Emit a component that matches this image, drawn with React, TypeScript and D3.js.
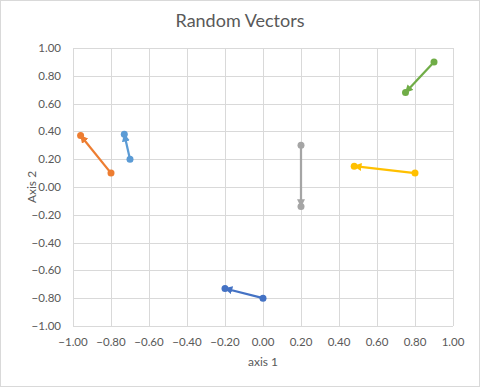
import React from "react";
import * as d3 from "d3";

const seriesNames = ["Series1", "Series2", "Series3", "Series4", "Series5", "Series6"];
const startX = [-0.70, -0.80, 0.20, 0.80, 0.00, 0.90];
const startY = [0.20, 0.10, 0.30, 0.10, -0.80, 0.90];
const endX = [-0.73, -0.96, 0.20, 0.48, -0.20, 0.75];
const endY = [0.38, 0.37, -0.14, 0.15, -0.73, 0.68];
const colors = ["#5B9BD5", "#ED7D31", "#A5A5A5", "#FFC000", "#4472C4", "#70AD47"];
const xTicks = [-1, -0.8, -0.6, -0.4, -0.2, 0, 0.2, 0.4, 0.6, 0.8, 1];
const yTicks = [-1, -0.8, -0.6, -0.4, -0.2, 0, 0.2, 0.4, 0.6, 0.8, 1];
const title = "Random Vectors";
const xLabel = "axis 1";
const yLabel = "Axis 2";

export default function App() {
  const W = 480, H = 387;
  const L = 73, R = 453, T = 48, B = 326;
  const x = d3.scaleLinear().domain([-1, 1]).range([L, R]);
  const y = d3.scaleLinear().domain([-1, 1]).range([B, T]);
  const font = "Lato, 'Open Sans', sans-serif";
  const txt = "#595959";
  return (
    <div style={{ position: "absolute", left: 0, top: 0 }}>
      <svg width={W} height={H} style={{ display: "block" }}>
        <defs>
          {colors.map((c, i) => (
            <marker key={i} id={`arr${i}`} viewBox="0 0 10 10" refX="9" refY="5"
              markerWidth="3.6" markerHeight="3.6" orient="auto" markerUnits="strokeWidth">
              <path d="M0,0 L10,5 L0,10 z" fill={c} />
            </marker>
          ))}
        </defs>
        <rect x={0.5} y={0.5} width={W - 1} height={H - 1} fill="#fff" stroke="#D9D9D9" />
        {xTicks.map((t, i) => (
          <line key={"gx" + i} x1={Math.round(x(t)) + 0.5} x2={Math.round(x(t)) + 0.5} y1={T} y2={B} stroke="#D9D9D9" />
        ))}
        {yTicks.map((t, i) => (
          <line key={"gy" + i} x1={L} x2={R} y1={Math.round(y(t)) + 0.5} y2={Math.round(y(t)) + 0.5} stroke="#D9D9D9" />
        ))}
        {xTicks.map((t, i) => (
          <text key={"tx" + i} x={x(t)} y={B + 20} textAnchor="middle" fontFamily={font} fontSize={11.5} fill={txt}>
            {d3.format(".2f")(t)}
          </text>
        ))}
        {yTicks.map((t, i) => (
          <text key={"ty" + i} x={L - 12} y={y(t) + 4} textAnchor="end" fontFamily={font} fontSize={11.5} fill={txt}>
            {d3.format(".2f")(t)}
          </text>
        ))}
        <text x={W / 2} y={27} textAnchor="middle" fontFamily={font} fontSize={18} fill={txt}>{title}</text>
        <text x={(L + R) / 2} y={366} textAnchor="middle" fontFamily={font} fontSize={12} fill={txt}>{xLabel}</text>
        <text transform={`translate(36,${(T + B) / 2}) rotate(-90)`} textAnchor="middle" fontFamily={font} fontSize={12} fill={txt}>{yLabel}</text>
        {seriesNames.map((n, i) => {
          const x1 = x(startX[i]), y1 = y(startY[i]), x2 = x(endX[i]), y2 = y(endY[i]);
          return (
            <g key={n}>
              <line x1={x1} y1={y1} x2={x2} y2={y2} stroke={colors[i]} strokeWidth={2.25} markerEnd={`url(#arr${i})`} />
              <circle cx={x1} cy={y1} r={3.5} fill={colors[i]} />
              <circle cx={x2} cy={y2} r={3.5} fill={colors[i]} />
            </g>
          );
        })}
      </svg>
    </div>
  );
}
